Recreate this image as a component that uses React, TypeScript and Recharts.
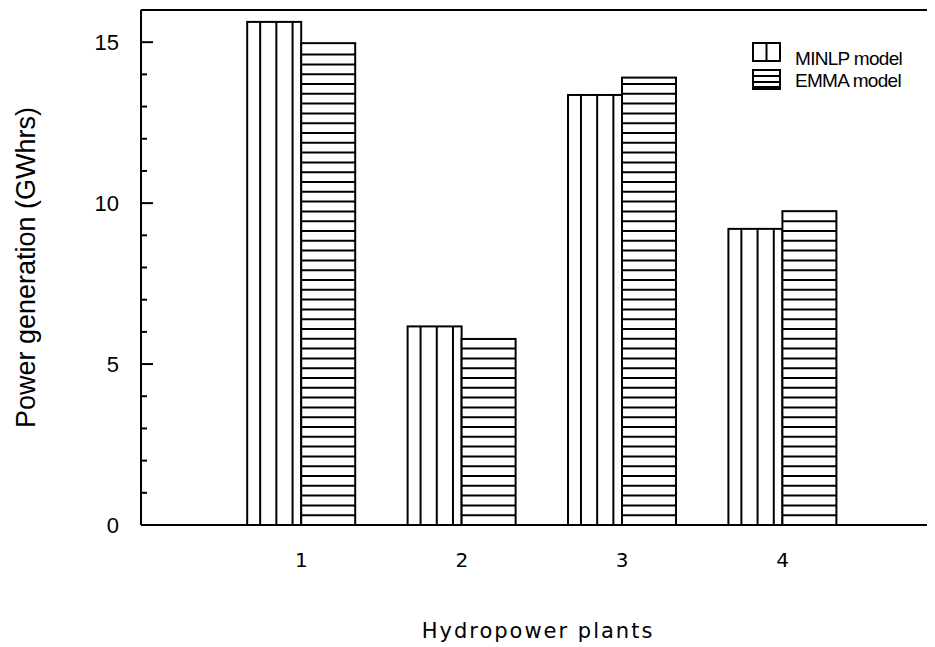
import React from 'react';
import { BarChart, Bar, XAxis, YAxis, ReferenceLine, Legend } from 'recharts';

const plants = [1, 2, 3, 4];
const minlpValues = [15.63, 6.17, 13.36, 9.2];
const emmaValues = [14.97, 5.78, 13.9, 9.75];
const yTicks = [0, 1, 2, 3, 4, 5, 6, 7, 8, 9, 10, 11, 12, 13, 14, 15];
const yLabels = [0, 5, 10, 15];

const data = plants.map((p, i) => ({ plant: p, minlp: minlpValues[i], emma: emmaValues[i] }));

// bar with vertical hatching
const VerticalBar = (props: any) => {
  const { x, y, width, height } = props;
  if (!height || height <= 0) return null;
  return (
    <g>
      <rect x={x} y={y} width={width} height={height} fill="#fff" stroke="#000" strokeWidth={2} />
      {[0.24, 0.54, 0.84].map((f) => (
        <line key={f} x1={x + width * f} x2={x + width * f} y1={y} y2={y + height} stroke="#000" strokeWidth={2} />
      ))}
    </g>
  );
};

// bar with horizontal hatching, lines counted from the baseline
const HorizontalBar = (props: any) => {
  const { x, y, width, height } = props;
  if (!height || height <= 0) return null;
  const lines = [];
  for (let yy = y + height - 9.8; yy > y + 4; yy -= 9.8) lines.push(yy);
  return (
    <g>
      <rect x={x} y={y} width={width} height={height} fill="#fff" stroke="#000" strokeWidth={2} />
      {lines.map((yy, i) => (
        <line key={i} x1={x} x2={x + width} y1={yy} y2={yy} stroke="#000" strokeWidth={2} />
      ))}
    </g>
  );
};

const YTick = (props: any) => {
  const { x, y, payload } = props;
  const major = yLabels.includes(payload.value);
  return (
    <g>
      <line x1={x} x2={x + (major ? 12 : 6)} y1={y} y2={y} stroke="#000" strokeWidth={2} />
      {major && (
        <text x={x - 22} y={y} dy="0.36em" textAnchor="end" fontSize={22} fontFamily="Liberation Sans, Arial" fill="#000">
          {payload.value}
        </text>
      )}
    </g>
  );
};

const LegendBox = () => (
  <svg width={190} height={52}>
    <rect x={1} y={1} width={27} height={18} fill="#fff" stroke="#000" strokeWidth={2} />
    <line x1={14.5} x2={14.5} y1={1} y2={19} stroke="#000" strokeWidth={2} />
    <text x={43} y={23} fontSize={19} letterSpacing={-0.7} fontFamily="Liberation Sans, Arial" fill="#000">MINLP model</text>
    <rect x={1} y={28} width={27} height={19} fill="#fff" stroke="#000" strokeWidth={2} />
    <line x1={1} x2={28} y1={34} y2={34} stroke="#000" strokeWidth={2} />
    <line x1={1} x2={28} y1={40} y2={40} stroke="#000" strokeWidth={2} />
    <line x1={1} x2={28} y1={45} y2={45} stroke="#000" strokeWidth={2} />
    <text x={43} y={45} fontSize={19} letterSpacing={-0.7} fontFamily="Liberation Sans, Arial" fill="#000">EMMA model</text>
  </svg>
);

export default function App() {
  return (
    <div style={{ background: '#fff' }}>
      <BarChart width={927} height={639} data={data} margin={{ top: 2, right: 0, left: 0, bottom: 0 }} barGap={0}>
        <XAxis
          dataKey="plant"
          type="number"
          domain={[0, 4.95]}
          ticks={plants}
          interval={0}
          height={122}
          tickLine={false}
          tickSize={0}
          tickMargin={28}
          axisLine={{ stroke: '#000', strokeWidth: 2 }}
          tick={{ fill: '#000', fontSize: 20, fontFamily: 'DejaVu Sans' }}
          label={{
            value: 'Hydropower plants',
            position: 'insideBottom',
            offset: 9,
            style: { fill: '#000', fontSize: 21, fontFamily: 'DejaVu Sans', letterSpacing: 2 },
          }}
        />
        <YAxis
          type="number"
          domain={[0, 16]}
          ticks={yTicks}
          interval={0}
          width={133}
          tickLine={false}
          tickSize={0}
          tickMargin={0}
          axisLine={{ stroke: '#000', strokeWidth: 2 }}
          tick={<YTick />}
          label={{
            value: 'Power generation (GWhrs)',
            angle: -90,
            position: 'insideLeft',
            offset: 17,
            style: { textAnchor: 'middle', fill: '#000', fontSize: 27, fontFamily: 'Liberation Sans, Arial' },
          }}
        />
        <ReferenceLine y={16} stroke="#000" strokeWidth={2} />
        <Legend
          layout="horizontal"
          verticalAlign="middle"
          align="center"
          content={() => <LegendBox />}
          wrapperStyle={{ position: 'absolute', top: 34, left: 744, width: 190, height: 52 }}
        />
        <Bar dataKey="minlp" name="MINLP model" barSize={54} shape={<VerticalBar />} isAnimationActive={false} />
        <Bar dataKey="emma" name="EMMA model" barSize={54} shape={<HorizontalBar />} isAnimationActive={false} />
      </BarChart>
    </div>
  );
}
